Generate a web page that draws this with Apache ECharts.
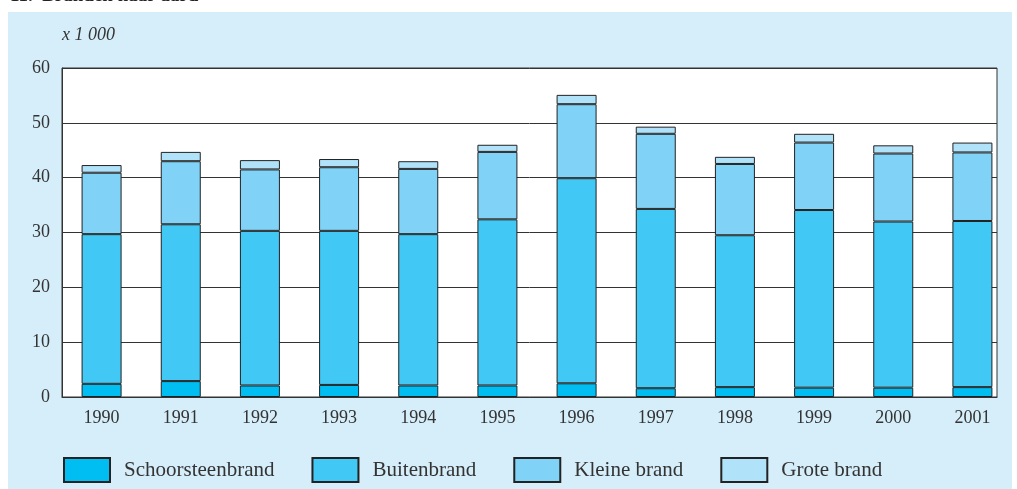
<!DOCTYPE html>
<html>
<head>
<meta charset="utf-8">
<script src="https://cdn.jsdelivr.net/npm/echarts@6/dist/echarts.min.js"></script>
<style>
  html, body { margin: 0; padding: 0; background: #fff; }
  #chart { width: 1017px; height: 489px; }
</style>
</head>
<body>
<div id="chart"></div>
<script>
// jaren
const years = ['1990', '1991', '1992', '1993', '1994', '1995', '1996', '1997', '1998', '1999', '2000', '2001'];
// x 1 000 branden
const schoorsteenbrand = [2.4, 2.9, 2.1, 2.2, 2.1, 2.1, 2.5, 1.6, 1.8, 1.7, 1.7, 1.8];
const buitenbrand = [27.3, 28.6, 28.2, 28.1, 27.6, 30.3, 37.4, 32.7, 27.7, 32.4, 30.3, 30.3];
const kleineBrand = [11.2, 11.5, 11.2, 11.6, 11.9, 12.3, 13.5, 13.7, 13.0, 12.3, 12.4, 12.5];
const groteBrand = [1.4, 1.7, 1.7, 1.5, 1.4, 1.3, 1.7, 1.3, 1.3, 1.6, 1.5, 1.8];

const fontFam = '"Liberation Serif", "DejaVu Serif", serif';

const chart = echarts.init(document.getElementById('chart'));

// bars live on grid 1 (slightly wider than the framed plot, like the original)
const mkSeries = (name, data, color) => ({
  name,
  type: 'bar',
  stack: 'totaal',
  xAxisIndex: 1,
  yAxisIndex: 1,
  data,
  barWidth: 40,
  itemStyle: { color, borderColor: '#222', borderWidth: 1 },
  emphasis: { disabled: true }
});

const option = {
  animation: false,
  backgroundColor: '#fff',
  graphic: [
    {
      type: 'rect',
      shape: { x: 8, y: 12, width: 1004, height: 477 },
      style: { fill: '#d5eefa' },
      z: -10
    },
    {
      type: 'text',
      left: 10, top: -13,
      style: { text: '11.  Branden naar aard', font: 'bold 19px ' + fontFam, fill: '#222' }
    },
    {
      type: 'text',
      left: 62, top: 26,
      style: { text: 'x 1 000', font: 'italic 18px ' + fontFam, fill: '#333' }
    }
  ],
  grid: [
    {
      left: 62, right: 20, top: 68, bottom: 92,
      show: true,
      backgroundColor: '#fff',
      borderColor: '#333',
      borderWidth: 1
    },
    {
      left: 62, right: 5, top: 68, bottom: 92
    }
  ],
  legend: {
    left: 58,
    top: 452,
    itemWidth: 46,
    itemHeight: 24,
    itemGap: 37,
    icon: 'rect',
    textStyle: { fontFamily: fontFam, fontSize: 21, color: '#333', padding: [0, 0, 0, 9] },
    data: ['Schoorsteenbrand', 'Buitenbrand', 'Kleine brand', 'Grote brand']
  },
  xAxis: [
    {
      type: 'category',
      gridIndex: 0,
      data: years,
      axisLine: { lineStyle: { color: '#333' } },
      axisTick: { show: false },
      axisLabel: { show: false }
    },
    {
      type: 'category',
      gridIndex: 1,
      data: years,
      axisLine: { show: false },
      axisTick: { show: false },
      axisLabel: { fontFamily: fontFam, fontSize: 18, color: '#333', margin: 12 }
    }
  ],
  yAxis: [
    {
      type: 'value',
      gridIndex: 0,
      min: 0, max: 60, interval: 10,
      axisLine: { show: true, lineStyle: { color: '#333' } },
      axisTick: { show: false },
      axisLabel: { fontFamily: fontFam, fontSize: 18, color: '#333', margin: 12 },
      splitLine: { lineStyle: { color: '#333', width: 1 } }
    },
    {
      type: 'value',
      gridIndex: 1,
      min: 0, max: 60, interval: 10,
      show: false,
      splitLine: { show: false }
    }
  ],
  series: [
    mkSeries('Schoorsteenbrand', schoorsteenbrand, '#00bdf2'),
    mkSeries('Buitenbrand', buitenbrand, '#42c8f4'),
    mkSeries('Kleine brand', kleineBrand, '#80d3f7'),
    mkSeries('Grote brand', groteBrand, '#b0e2fa')
  ]
};

chart.setOption(option);
</script>
</body>
</html>
